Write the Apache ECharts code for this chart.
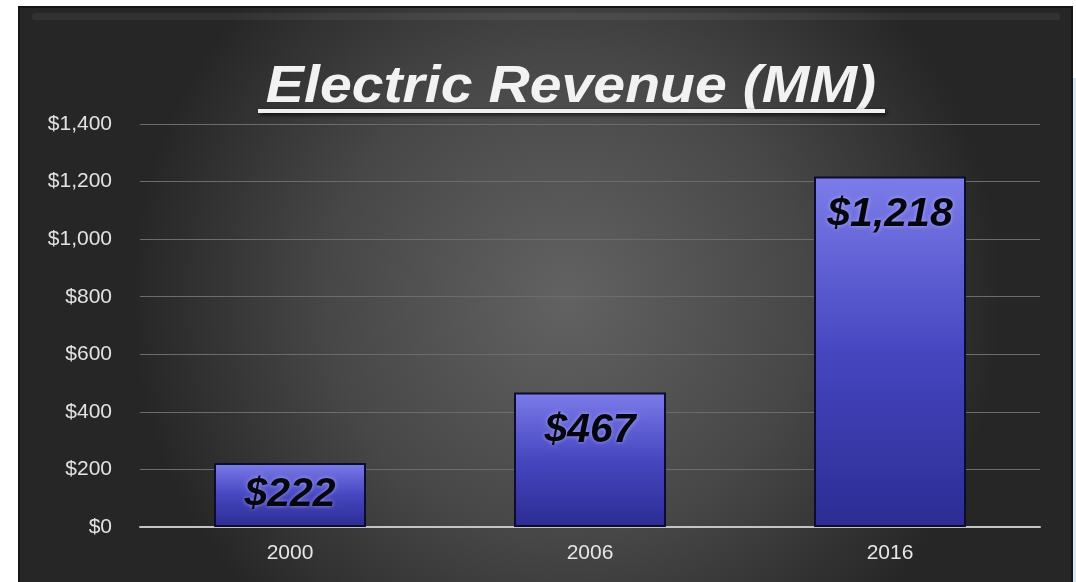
<!DOCTYPE html>
<html>
<head>
<meta charset="utf-8">
<script src="https://cdn.jsdelivr.net/npm/echarts@6/dist/echarts.min.js"></script>
<style>html,body{margin:0;padding:0;background:#fff}#c{width:1076px;height:582px}</style>
</head>
<body>
<div id="c"></div>
<script>
const categories = ['2000', '2006', '2016'];
const revenue = [222, 467, 1218];
const yTicks = { min: 0, max: 1400, interval: 200 };
const titleText = 'Electric Revenue (MM)';

const fmtMoney = v => '$' + Number(v).toLocaleString('en-US');

const chart = echarts.init(document.getElementById('c'), null, { renderer: 'canvas' });

const barData = revenue.map((v, i) => {
  const item = { value: v };
  if (i === 0) item.label = { position: 'inside' };
  return item;
});

chart.setOption({
  backgroundColor: '#ffffff',
  animation: false,
  graphic: [
    {
      type: 'rect', z: -10, silent: true,
      shape: { x: 19, y: 7, width: 1053, height: 580 },
      style: {
        fill: {
          type: 'radial', x: 0.52, y: 0.5, r: 0.75,
          colorStops: [
            { offset: 0, color: '#626262' },
            { offset: 0.55, color: '#474747' },
            { offset: 1, color: '#262626' }
          ]
        },
        stroke: '#151515', lineWidth: 2
      }
    },
    {
      type: 'rect', z: -9, silent: true,
      shape: { x: 32, y: 13, width: 1028, height: 7, r: 3 },
      style: { fill: 'rgba(255,255,255,0.06)' }
    },
    {
      type: 'rect', z: -9, silent: true,
      shape: { x: 1073, y: 78, width: 3, height: 504 },
      style: { fill: '#dbe6ef' }
    },
    {
      type: 'text', z: 10, silent: true,
      x: 571, y: 88, scaleX: 1.1, scaleY: 1,
      style: {
        text: titleText,
        x: 0, y: 0,
        align: 'center', verticalAlign: 'middle',
        font: 'italic bold 52px "Liberation Sans", Arial, sans-serif',
        fill: '#f2f2f2',
        shadowColor: 'rgba(0,0,0,0.8)', shadowBlur: 4, shadowOffsetX: 2, shadowOffsetY: 2
      }
    },
    {
      type: 'line', z: 10, silent: true,
      shape: { x1: 258, y1: 111, x2: 885, y2: 111 },
      style: {
        stroke: '#f0f0f0', lineWidth: 4,
        shadowColor: 'rgba(0,0,0,0.8)', shadowBlur: 4, shadowOffsetX: 2, shadowOffsetY: 2
      }
    }
  ],
  grid: { left: 140, right: 36, top: 124, bottom: 55, containLabel: false },
  xAxis: {
    type: 'category',
    data: categories,
    axisLine: { show: true, lineStyle: { color: '#c4c4c4', width: 2 } },
    axisTick: { show: false },
    axisLabel: {
      color: '#e6e6e6', fontSize: 21, margin: 16,
      fontFamily: '"Liberation Sans", Arial, sans-serif'
    }
  },
  yAxis: {
    type: 'value',
    min: yTicks.min, max: yTicks.max, interval: yTicks.interval,
    axisLine: { show: false },
    axisTick: { show: false },
    splitLine: { lineStyle: { color: '#6c6c6c', width: 1 } },
    axisLabel: {
      color: '#e2e2e2', fontSize: 21, margin: 28,
      fontFamily: '"Liberation Sans", Arial, sans-serif',
      formatter: fmtMoney
    }
  },
  series: [{
    type: 'bar',
    data: barData,
    barWidth: 152,
    itemStyle: {
      color: {
        type: 'linear', x: 0, y: 0, x2: 0, y2: 1,
        colorStops: [
          { offset: 0, color: '#7c7cea' },
          { offset: 0.5, color: '#4646c0' },
          { offset: 1, color: '#2c2c94' }
        ]
      },
      borderColor: '#0c0c2e', borderWidth: 2
    },
    label: {
      show: true,
      position: 'insideTop',
      distance: 18,
      formatter: p => fmtMoney(p.value),
      color: '#050510',
      fontSize: 41,
      fontStyle: 'italic',
      fontWeight: 'bold',
      fontFamily: '"Liberation Sans", Arial, sans-serif',
      textShadowColor: 'rgba(220,220,255,0.55)',
      textShadowBlur: 4
    }
  }]
});
</script>
</body>
</html>
